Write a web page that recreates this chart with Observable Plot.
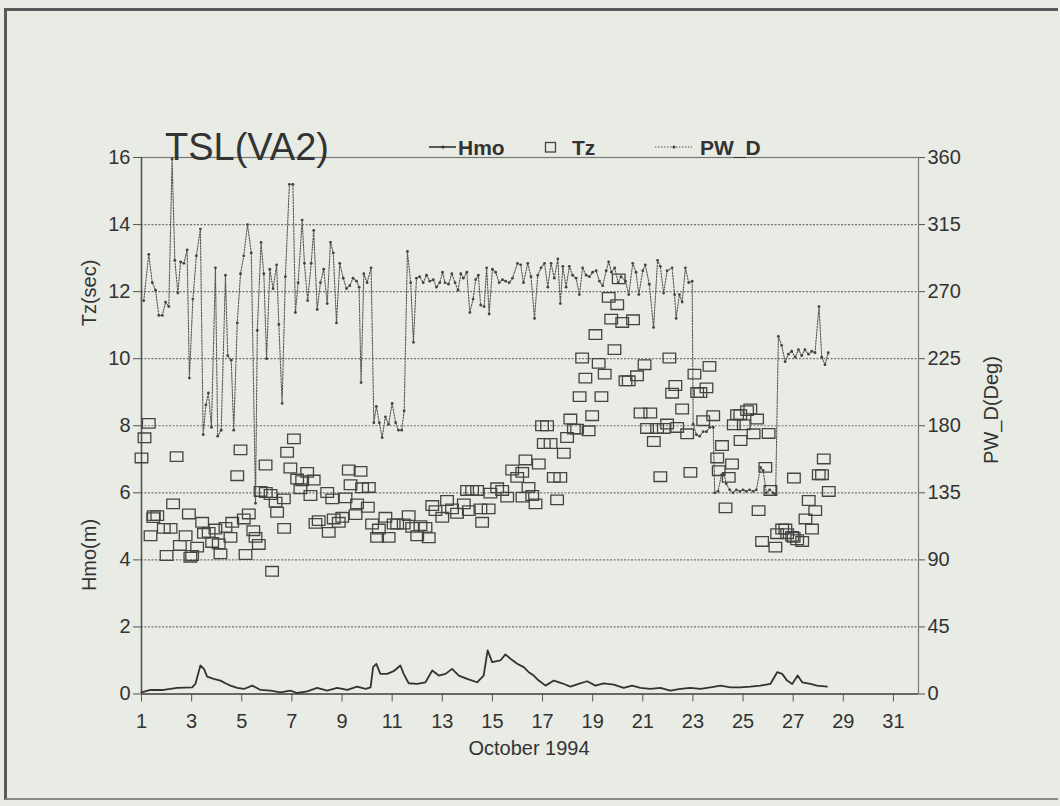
<!DOCTYPE html>
<html><head><meta charset="utf-8">
<script src="https://cdn.jsdelivr.net/npm/d3@7"></script>
<script src="https://cdn.jsdelivr.net/npm/@observablehq/plot@0.6"></script>
<style>
html,body{margin:0;padding:0}
body{background:#e9ebe5;width:1060px;height:806px;overflow:hidden;position:relative;font-family:"Liberation Sans",Arial,sans-serif;color:#333}
#border{position:absolute;left:4px;top:8px;width:1054px;height:792px;border:3px solid #5a5a5a;border-right:none;border-bottom:2px solid #8a8a8a;box-sizing:border-box}
#chart{position:absolute;left:0;top:0}
.t{position:absolute;white-space:nowrap;line-height:1}
#title{left:165px;top:128px;font-size:38px}
.lg{font-size:21px;font-weight:bold;top:137px}
.rot{transform:translate(-50%,-50%) rotate(-90deg);font-size:20px}
</style></head>
<body>
<div id="border"></div>
<div id="chart"></div>
<div class="t" id="title">TSL(VA2)</div>
<svg class="t" style="left:428px;top:140px" width="30" height="14"><line x1="1" y1="7" x2="28" y2="7" stroke="#333" stroke-width="1.6"/><circle cx="15" cy="7" r="1.6" fill="#333"/></svg>
<div class="t lg" style="left:458px">Hmo</div>
<svg class="t" style="left:544px;top:141px" width="14" height="13"><rect x="1.5" y="1.5" width="10" height="9.5" fill="none" stroke="#444" stroke-width="1.3"/></svg>
<div class="t lg" style="left:572px">Tz</div>
<svg class="t" style="left:654px;top:140px" width="40" height="14"><line x1="1" y1="7" x2="38" y2="7" stroke="#555" stroke-width="1.2" stroke-dasharray="1.5,1.5"/><circle cx="20" cy="7" r="1.6" fill="#444"/></svg>
<div class="t lg" style="left:700px">PW_D</div>
<div class="t rot" style="left:89px;top:293px">Tz(sec)</div>
<div class="t rot" style="left:89px;top:555px">Hmo(m)</div>
<div class="t rot" style="left:991px;top:410px">PW_D(Deg)</div>
<div class="t" style="left:529px;top:738px;transform:translateX(-50%);font-size:20px">October 1994</div>
<script>
// ---- data ----
const pwdDay = [1.09,1.29,1.43,1.56,1.69,1.83,1.96,2.09,2.22,2.33,2.45,2.56,2.69,2.82,2.91,3.05,3.19,3.35,3.46,3.57,3.67,3.79,3.95,4.04,4.18,4.35,4.44,4.58,4.68,4.82,4.95,5.08,5.23,5.38,5.55,5.62,5.77,5.88,5.99,6.12,6.25,6.39,6.48,6.61,6.74,6.90,7.04,7.14,7.25,7.41,7.50,7.63,7.77,7.87,8.01,8.14,8.27,8.41,8.54,8.65,8.78,8.91,9.05,9.18,9.31,9.44,9.58,9.68,9.76,9.87,10.00,10.16,10.27,10.37,10.49,10.60,10.73,10.86,11.00,11.14,11.25,11.38,11.48,11.61,11.74,11.85,11.97,12.10,12.24,12.37,12.50,12.64,12.77,12.90,13.01,13.11,13.25,13.38,13.51,13.63,13.74,13.84,13.98,14.10,14.23,14.33,14.44,14.53,14.67,14.77,14.87,15.00,15.13,15.27,15.40,15.53,15.67,15.80,16.00,16.13,16.24,16.41,16.54,16.68,16.81,16.94,17.08,17.21,17.34,17.47,17.61,17.71,17.81,17.94,18.07,18.20,18.34,18.47,18.60,18.74,18.87,19.00,19.14,19.27,19.40,19.54,19.64,19.75,19.88,20.02,20.13,20.31,20.44,20.60,20.73,20.84,21.00,21.10,21.26,21.43,21.59,21.70,21.83,21.97,22.17,22.27,22.33,22.46,22.57,22.70,22.83,22.97,23.01,23.14,23.27,23.41,23.54,23.67,23.81,23.87,24.00,24.14,24.24,24.33,24.47,24.60,24.73,24.87,25.00,25.13,25.26,25.40,25.53,25.70,25.80,25.93,26.06,26.20,26.30,26.41,26.54,26.68,26.81,26.94,27.08,27.21,27.34,27.47,27.61,27.74,27.87,28.03,28.14,28.27,28.40];
const pwdDeg = [264,295,276,271,254,254,263,260,359,291,269,290,289,298,212,265,294,312,174,194,202,179,286,173,177,281,227,224,177,249,282,294,315,296,128,244,303,282,225,285,272,288,248,195,280,342,342,256,276,318,289,264,289,311,258,276,285,262,303,296,249,289,279,272,274,279,277,273,209,282,276,286,182,193,182,172,186,181,195,182,177,177,190,297,276,236,279,280,276,281,277,278,273,276,283,276,275,282,276,271,282,279,283,256,265,278,281,261,260,286,255,285,283,276,278,277,276,279,289,288,276,289,280,252,281,286,289,273,289,279,292,262,287,273,287,281,279,268,286,281,280,283,284,277,274,284,290,283,286,276,280,277,268,289,283,268,284,288,275,246,291,287,269,284,286,268,252,268,263,286,276,277,181,174,173,176,176,179,179,135,136,147,148,141,137,135,137,136,137,136,137,136,137,152,150,135,137,135,134,240,234,223,228,230,226,231,227,231,228,230,229,260,226,221,229];

const tzDay = [1.00,1.12,1.29,1.36,1.47,1.49,1.63,1.89,2.00,2.16,2.26,2.40,2.53,2.76,2.89,2.95,3.02,3.22,3.42,3.49,3.68,3.82,3.95,4.08,4.15,4.35,4.55,4.62,4.82,4.95,5.08,5.15,5.28,5.46,5.55,5.68,5.75,5.95,5.96,6.15,6.21,6.35,6.41,6.68,6.69,6.81,6.94,7.08,7.21,7.34,7.41,7.61,7.74,7.87,7.94,8.07,8.41,8.47,8.61,8.67,8.87,9.01,9.14,9.27,9.34,9.54,9.60,9.74,9.80,10.03,10.07,10.20,10.40,10.47,10.73,10.86,11.06,11.20,11.46,11.66,11.80,12.00,12.13,12.33,12.46,12.60,12.73,13.00,13.19,13.39,13.59,13.86,13.99,14.06,14.19,14.39,14.52,14.59,14.85,14.92,15.19,15.39,15.59,15.79,15.99,16.19,16.20,16.32,16.44,16.59,16.72,16.85,16.98,17.05,17.18,17.32,17.45,17.58,17.71,17.85,17.98,18.11,18.25,18.38,18.48,18.58,18.71,18.84,18.98,19.11,19.24,19.35,19.48,19.64,19.74,19.87,19.98,20.04,20.18,20.31,20.44,20.61,20.77,20.91,21.07,21.17,21.30,21.44,21.57,21.70,21.84,21.97,22.06,22.17,22.30,22.37,22.57,22.77,22.90,23.06,23.17,23.30,23.41,23.54,23.66,23.81,23.97,24.03,24.16,24.30,24.43,24.56,24.63,24.76,24.89,24.90,25.03,25.16,25.29,25.42,25.56,25.62,25.76,25.89,26.02,26.09,26.29,26.36,26.56,26.69,26.76,26.96,27.02,27.03,27.16,27.36,27.49,27.62,27.75,27.88,28.02,28.15,28.22,28.42];
const tzSec = [7.04,7.64,8.07,4.72,5.26,5.32,5.32,4.94,4.13,4.94,5.67,7.08,4.43,4.72,5.37,4.08,4.13,4.38,5.12,4.79,4.82,4.52,4.92,4.48,4.18,4.97,4.67,5.12,6.51,7.28,5.22,4.16,5.37,4.87,4.67,4.46,6.04,6.83,6.01,5.95,3.66,5.72,5.42,5.82,4.94,7.21,6.74,7.61,6.41,6.12,6.36,6.61,5.92,6.38,5.09,5.17,6.01,4.82,5.82,5.22,5.12,5.27,5.85,6.68,6.24,5.35,5.67,6.64,6.15,5.57,6.16,5.07,4.67,4.92,5.27,4.67,5.07,5.07,5.07,5.32,4.97,4.72,5.02,4.97,4.66,5.62,5.47,5.27,5.77,5.52,5.39,5.67,6.07,5.47,6.07,6.07,5.52,5.12,5.52,5.99,6.15,6.07,5.87,6.68,6.46,6.61,5.87,6.98,6.16,5.92,5.67,6.86,8.00,7.47,8.00,7.47,6.46,5.79,6.46,7.18,7.65,8.20,7.90,7.90,8.87,10.02,9.42,7.85,8.30,10.72,9.86,8.87,9.54,11.83,11.18,10.27,11.61,12.38,11.08,9.34,9.34,11.16,9.49,8.38,9.82,7.92,8.38,7.53,7.92,6.48,7.92,8.05,10.02,8.97,9.20,7.95,8.50,7.76,6.61,9.54,8.99,8.99,8.15,9.13,9.77,8.30,7.04,6.66,7.41,5.55,6.46,6.86,8.03,8.33,8.33,7.56,8.03,8.45,8.50,7.76,8.20,5.47,4.55,6.76,7.77,6.07,4.38,4.78,4.92,4.92,4.78,4.70,4.67,6.44,4.60,4.55,5.22,5.77,4.92,5.47,6.54,6.54,7.01,6.04];

const hmoDay = [1.00,1.36,1.88,2.42,3.02,3.15,3.35,3.49,3.62,3.88,4.15,4.35,4.55,4.82,5.08,5.42,5.75,6.15,6.54,6.94,7.21,7.61,8.01,8.41,8.81,9.21,9.60,9.94,10.14,10.24,10.37,10.53,10.80,11.06,11.33,11.46,11.66,12.00,12.33,12.60,12.86,13.13,13.39,13.66,13.99,14.39,14.65,14.81,14.99,15.32,15.52,15.72,15.99,16.25,16.45,16.65,16.85,17.12,17.45,17.78,18.11,18.44,18.78,19.11,19.44,19.84,20.24,20.57,20.91,21.30,21.70,22.10,22.50,22.90,23.30,23.70,24.10,24.50,24.89,25.29,25.69,26.09,26.36,26.56,26.76,26.96,27.18,27.36,27.69,27.95,28.35];
const hmoM = [0.05,0.12,0.12,0.18,0.20,0.30,0.85,0.75,0.52,0.45,0.40,0.32,0.25,0.18,0.15,0.25,0.12,0.10,0.05,0.10,0.03,0.08,0.18,0.10,0.18,0.12,0.22,0.15,0.20,0.80,0.90,0.60,0.60,0.68,0.85,0.60,0.32,0.30,0.35,0.70,0.55,0.60,0.75,0.55,0.45,0.35,0.55,1.30,0.95,1.00,1.18,1.05,0.90,0.80,0.65,0.55,0.40,0.25,0.40,0.32,0.22,0.30,0.38,0.25,0.32,0.28,0.18,0.25,0.18,0.15,0.18,0.10,0.15,0.18,0.15,0.20,0.25,0.20,0.20,0.22,0.25,0.30,0.65,0.60,0.40,0.30,0.55,0.35,0.30,0.25,0.22];

const dayTicks = [1,3,5,7,9,11,13,15,17,19,21,23,25,27,29,31];
const leftTicks = [0,2,4,6,8,10,12,14,16];
const rightTicks = [0,45,90,135,180,225,270,315,360];
const gridLines = [2,4,6,8,10,12,14];

// ---- build ----
const pwd = pwdDay.map((d,i)=>({day:d, deg:pwdDeg[i]}));
const tz = tzDay.map((d,i)=>({day:d, sec:tzSec[i]}));
const hmo = hmoDay.map((d,i)=>({day:d, m:hmoM[i]}));
const k = 16/360; // right axis (deg) onto left axis units
const box = {draw(ctx){ ctx.moveTo(-6.3,-4.8); ctx.lineTo(6.3,-4.8); ctx.lineTo(6.3,4.8); ctx.lineTo(-6.3,4.8); ctx.closePath(); }};

const chart = Plot.plot({
  width:1060, height:806,
  marginLeft:141, marginRight:142, marginTop:157, marginBottom:112.5,
  style:{background:"transparent", fontFamily:"'Liberation Sans', Arial, sans-serif", fontSize:"20px", color:"#333"},
  x:{domain:[1,32]},
  y:{domain:[0,16]},
  marks:[
    Plot.ruleY(gridLines,{stroke:"#555", strokeWidth:1.2, strokeDasharray:"2,1.5", strokeOpacity:0.8}),
    Plot.frame({stroke:"#777", strokeWidth:1.2}),
    Plot.ruleX([1],{stroke:"#555", strokeWidth:1.5}),
    Plot.ruleY([0],{stroke:"#555", strokeWidth:1.5}),
    Plot.axisX(dayTicks,{anchor:"bottom", tickSize:8, tickPadding:12, label:null, stroke:"#555", fill:"#333", fontSize:20}),
    Plot.axisY(leftTicks,{anchor:"left", tickSize:8, tickPadding:3, label:null, stroke:"#555", fill:"#333", fontSize:20}),
    Plot.axisY(rightTicks.map(v=>v*k),{anchor:"right", tickSize:6, tickPadding:3, label:null, stroke:"#555", fill:"#333", fontSize:20, tickFormat:(d)=>String(Math.round(d/k))}),
    Plot.line(pwd,{x:"day", y:d=>d.deg*k, stroke:"#555", strokeWidth:1.1, strokeDasharray:"1.4,1.4"}),
    Plot.dot(pwd,{x:"day", y:d=>d.deg*k, r:1.4, fill:"#444", stroke:null}),
    Plot.dot(tz,{x:"day", y:"sec", symbol:box, r:6, stroke:"#444", strokeWidth:1.3, fill:"none"}),
    Plot.line(hmo,{x:"day", y:"m", stroke:"#333", strokeWidth:1.8})
  ]
});
document.getElementById("chart").appendChild(chart);
</script>
</body></html>
